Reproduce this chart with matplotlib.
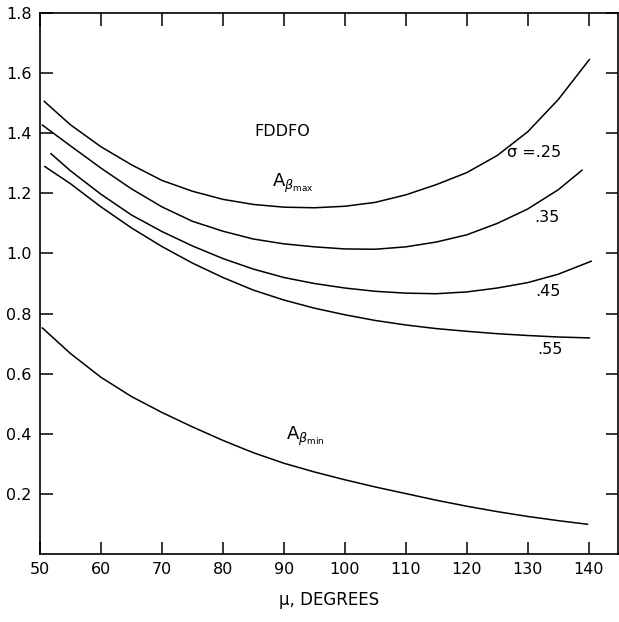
import matplotlib
matplotlib.use("Agg")
import matplotlib.pyplot as plt

MU_25 = [50.7, 55, 60, 65, 70, 75, 80, 85, 90, 95, 100, 105, 110, 115, 120, 125, 130, 135, 140.1]
A_25 = [1.506, 1.428, 1.355, 1.295, 1.243, 1.207, 1.180, 1.163, 1.154, 1.152, 1.157, 1.170,
        1.195, 1.229, 1.269, 1.326, 1.405, 1.512, 1.645]

MU_35 = [50.4, 55, 60, 65, 70, 75, 80, 85, 90, 95, 100, 105, 110, 115, 120, 125, 130, 135, 138.9]
A_35 = [1.427, 1.358, 1.284, 1.215, 1.155, 1.107, 1.074, 1.048, 1.032, 1.022, 1.015, 1.014,
        1.022, 1.038, 1.062, 1.100, 1.148, 1.212, 1.277]

MU_45 = [51.8, 55, 60, 65, 70, 75, 80, 85, 90, 95, 100, 105, 110, 115, 120, 125, 130, 135, 140.4]
A_45 = [1.332, 1.275, 1.197, 1.128, 1.073, 1.025, 0.983, 0.948, 0.920, 0.900, 0.885, 0.874,
        0.868, 0.866, 0.872, 0.885, 0.903, 0.931, 0.974]

MU_55 = [50.8, 55, 60, 65, 70, 75, 80, 85, 90, 95, 100, 105, 110, 115, 120, 125, 130, 135, 140.1]
A_55 = [1.289, 1.232, 1.155, 1.085, 1.023, 0.968, 0.920, 0.878, 0.845, 0.818, 0.796, 0.777,
        0.762, 0.750, 0.741, 0.733, 0.727, 0.722, 0.719]

MU_MIN = [50.4, 55, 60, 65, 70, 75, 80, 85, 90, 95, 100, 105, 110, 115, 120, 125, 130, 135, 139.8]
A_MIN = [0.752, 0.667, 0.588, 0.524, 0.471, 0.423, 0.378, 0.337, 0.302, 0.273, 0.247, 0.223,
         0.201, 0.179, 0.159, 0.141, 0.125, 0.111, 0.099]

CURVES = [(MU_25, A_25), (MU_35, A_35), (MU_45, A_45), (MU_55, A_55), (MU_MIN, A_MIN)]
SIGMA_LABELS = ["\u03c3 =.25", ".35", ".45", ".55"]
SIGMA_POS = [(126.6, 1.337), (131.0, 1.119), (131.3, 0.874), (131.5, 0.68)]

XTICKS = [50, 60, 70, 80, 90, 100, 110, 120, 130, 140]
YTICKS = [0.2, 0.4, 0.6, 0.8, 1.0, 1.2, 1.4, 1.6, 1.8]

plt.rcParams["font.family"] = ["DejaVu Sans"]
plt.rcParams["mathtext.fontset"] = "dejavusans"

fig = plt.figure(figsize=(6.19, 6.22), dpi=100)
ax = fig.add_axes([0.0646, 0.1093, 0.9338, 0.8698])

for mu, a in CURVES:
    ax.plot(mu, a, color="black", lw=1.1, solid_joinstyle="round")

for txt, (x, y) in zip(SIGMA_LABELS, SIGMA_POS):
    ax.text(x, y, txt, fontsize=11.5, ha="left", va="center")

ax.text(89.7, 1.405, "FDDFO", fontsize=11.5, ha="center", va="center")
ax.text(88.1, 1.22, r"A$_{\beta_{\rm max}}$", fontsize=13, ha="left", va="baseline")
ax.text(90.3, 0.38, r"A$_{\beta_{\rm min}}$", fontsize=13, ha="left", va="baseline")

ax.set_xlim(50, 144.8)
ax.set_ylim(0, 1.8)
ax.set_xticks(XTICKS)
ax.set_yticks(YTICKS)
ax.set_yticklabels([f"{v:.1f}" for v in YTICKS])
ax.tick_params(direction="in", length=9, width=1.1, top=True, right=True,
               labelsize=11.5, pad=6)
for s in ax.spines.values():
    s.set_linewidth(1.2)

ax.set_xlabel("\u03bc, DEGREES", fontsize=12, labelpad=10)

fig.savefig("out.png", dpi=100)
